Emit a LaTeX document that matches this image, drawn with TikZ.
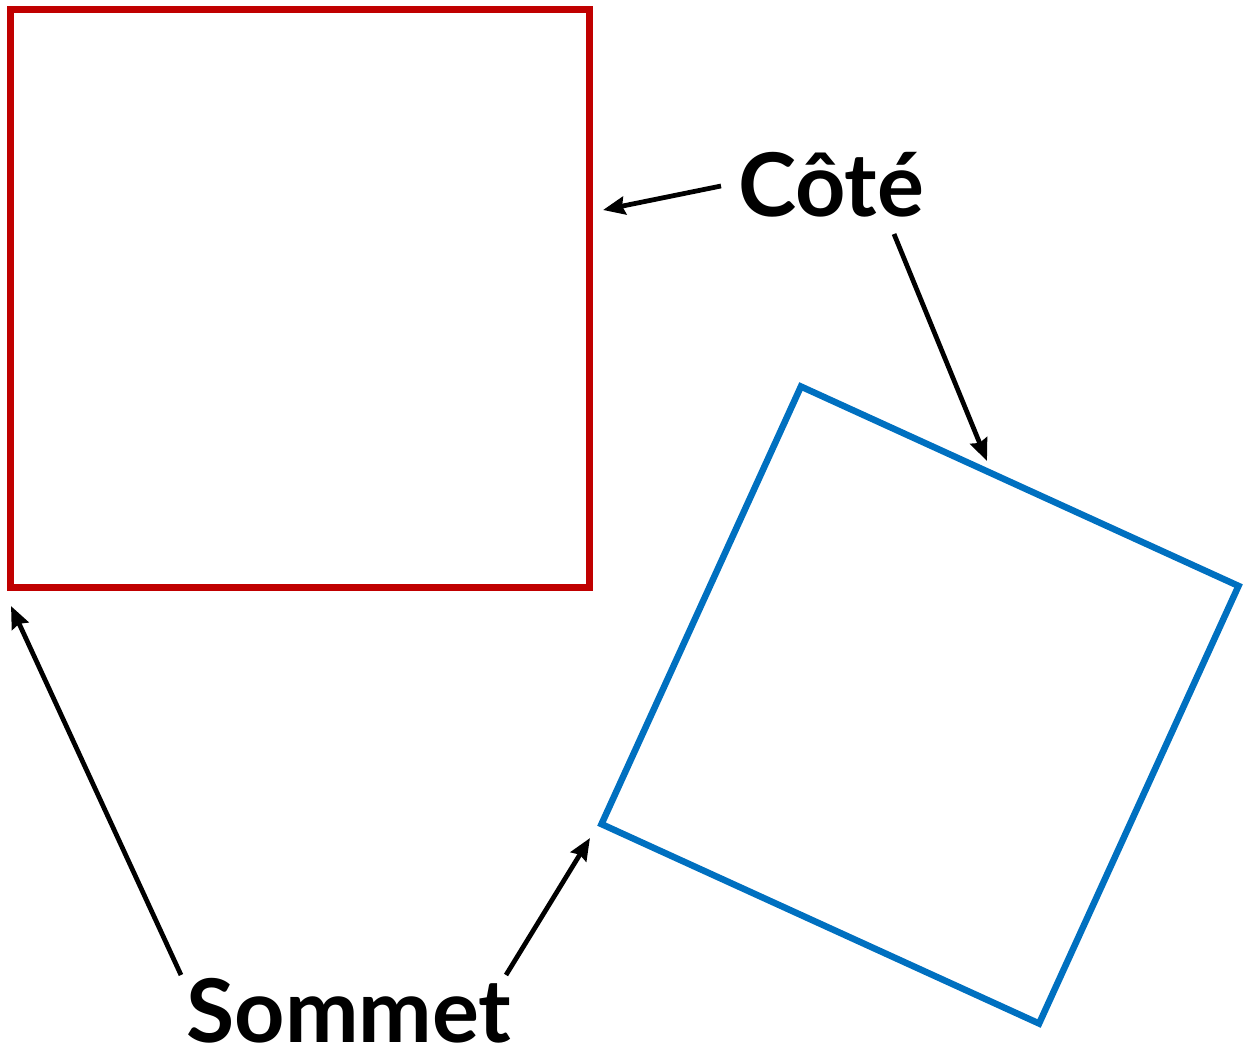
\documentclass[tikz,border=0pt]{standalone}
\usepackage{fontspec}
\setmainfont{Lato}
\usetikzlibrary{calc,positioning,arrows.meta}
\definecolor{sqred}{HTML}{C00000}
\definecolor{sqblue}{HTML}{0070C0}
\tikzset{
  ptr/.style={-{Stealth[length=.44cm,width=.36cm,inset=.05cm]},line width=.095cm,black},
  word/.style={font=\fontsize{50}{58}\selectfont\bfseries,inner sep=0,anchor=base}
}

\begin{document}
\begin{tikzpicture}[x=.02cm,y=-.02cm]

  \useasboundingbox (0,0) rectangle (1250,1052);

  \node (square_0) [rectangle,draw=sqred,line width=.14cm,minimum size=11.58cm,inner sep=0] at(300,298.5) {};
  \node (square_1) [rectangle,draw=sqblue,line width=.13cm,minimum size=9.62cm,inner sep=0,rotate=-24.5] at(920,705) {};

  \node (cote) [word] at(831,216) {Côté};
  \node (sommet) [word] at(349,1042) {Sommet};

  \coordinate (tip_0) at(603,210);
  \coordinate (tip_1) at(987,461);
  \coordinate (tip_2) at(11,606);
  \coordinate (tip_3) at(590,838);

  \draw[ptr] ($(cote.base)+(-110,-30)$) -- (tip_0);
  \draw[ptr] ($(cote.base)+(63,18)$) -- (tip_1);
  \draw[ptr] ($(sommet.base)+(-168,-67)$) -- (tip_2);
  \draw[ptr] ($(sommet.base)+(157,-67)$) -- (tip_3);

\end{tikzpicture}
\end{document}
